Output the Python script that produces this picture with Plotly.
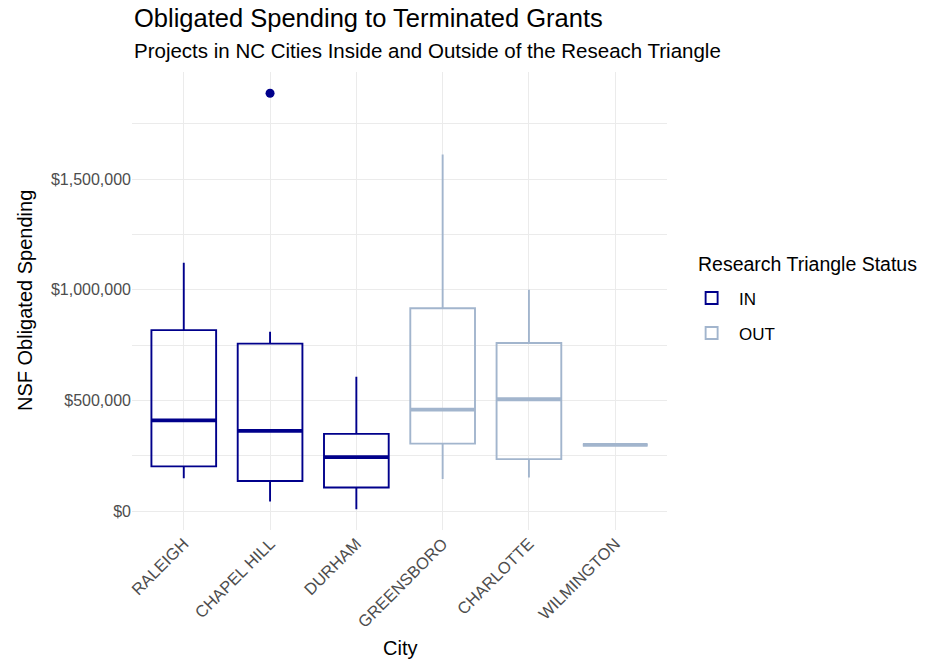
import plotly.graph_objects as go

cities = ["RALEIGH", "CHAPEL HILL", "DURHAM", "GREENSBORO", "CHARLOTTE", "WILMINGTON"]
status = ["IN", "IN", "IN", "OUT", "OUT", "OUT"]
q1 = [203000, 137000, 108000, 306000, 236000, 300000]
median = [411000, 363000, 245000, 459000, 506000, 300000]
q3 = [818000, 757000, 350000, 917000, 760000, 300000]
lower = [150000, 45000, 10000, 146000, 153000, 300000]
upper = [1122000, 811000, 608000, 1611000, 1000000, 300000]
outlier_city = ["CHAPEL HILL"]
outlier_value = [1887000]
y_ticks = [0, 500000, 1000000, 1500000]
y_tick_labels = ["$0", "$500,000", "$1,000,000", "$1,500,000"]

colors = {"IN": "#00008B", "OUT": "#A2B5CD"}
FONT = "Liberation Sans, Arial, sans-serif"
BOXW = 0.75

fig = go.Figure()
for grp in ["IN", "OUT"]:
    idx = [i for i, s in enumerate(status) if s == grp]
    fig.add_trace(go.Box(
        name=grp,
        x=idx,
        q1=[q1[i] for i in idx],
        median=[median[i] for i in idx],
        q3=[q3[i] for i in idx],
        lowerfence=[lower[i] for i in idx],
        upperfence=[upper[i] for i in idx],
        width=BOXW,
        whiskerwidth=0,
        line=dict(color=colors[grp], width=1.9),
        fillcolor="rgba(255,255,255,0)",
        boxpoints=False,
        hoverinfo="skip",
        legendgroup=grp,
    ))
    # thicker median segments (ggplot style)
    mx, my = [], []
    for i in idx:
        mx += [i - BOXW / 2, i + BOXW / 2, None]
        my += [median[i], median[i], None]
    fig.add_trace(go.Scatter(
        x=mx, y=my, mode="lines",
        line=dict(color=colors[grp], width=3.8),
        showlegend=False, hoverinfo="skip", legendgroup=grp,
    ))

fig.add_trace(go.Scatter(
    x=[cities.index(c) for c in outlier_city], y=outlier_value,
    mode="markers", marker=dict(color=colors["IN"], size=9),
    showlegend=False, hoverinfo="skip",
))

grid = "#EBEBEB"
fig.update_layout(
    width=928, height=662,
    margin=dict(l=132, r=261, t=72, b=132),
    paper_bgcolor="white", plot_bgcolor="white",
    font=dict(family=FONT, color="#000000"),
    boxmode="overlay",
    showlegend=True,
    legend=dict(
        font=dict(size=17, color="#000000"),
        x=1.032, xanchor="left", y=0.545, yanchor="top",
        itemwidth=45,
        bgcolor="rgba(0,0,0,0)",
    ),
    xaxis=dict(
        range=[-0.6, 5.6],
        tickmode="array", tickvals=list(range(len(cities))), ticktext=cities,
        tickangle=-45, tickfont=dict(size=16.5, color="#4D4D4D"),
        showgrid=True, gridcolor=grid, gridwidth=1.2,
        zeroline=False, showline=False, ticks="",
    ),
    yaxis=dict(
        range=[-84000, 1983000],
        tickmode="array", tickvals=y_ticks, ticktext=y_tick_labels,
        tickfont=dict(size=16, color="#4D4D4D"),
        showgrid=True, gridcolor=grid, gridwidth=1.2,
        minor=dict(dtick=250000, tick0=250000, showgrid=True, gridcolor=grid, gridwidth=0.6),
        zeroline=False, showline=False, ticks="",
    ),
    annotations=[
        dict(text="Obligated Spending to Terminated Grants", xref="paper", yref="paper",
             x=0.0, y=1.118, xanchor="left", yanchor="middle", showarrow=False,
             font=dict(size=25.5, color="#000000")),
        dict(text="Projects in NC Cities Inside and Outside of the Reseach Triangle", xref="paper", yref="paper",
             x=0.0, y=1.048, xanchor="left", yanchor="middle", showarrow=False,
             font=dict(size=20.5, color="#000000")),
        dict(text="NSF Obligated Spending", xref="paper", yref="paper",
             x=-0.2, y=0.5, xanchor="center", yanchor="middle", textangle=-90, showarrow=False,
             font=dict(size=20, color="#000000")),
        dict(text="City", xref="paper", yref="paper",
             x=0.5, y=-0.258, xanchor="center", yanchor="middle", showarrow=False,
             font=dict(size=20, color="#000000")),
        dict(text="Research Triangle Status", xref="paper", yref="paper",
             x=1.054, y=0.581, xanchor="left", yanchor="middle", showarrow=False,
             font=dict(size=19.5, color="#000000")),
    ],
)

fig.write_html("out.html", config={"displayModeBar": False},
               post_script="document.body.style.margin='0';")
